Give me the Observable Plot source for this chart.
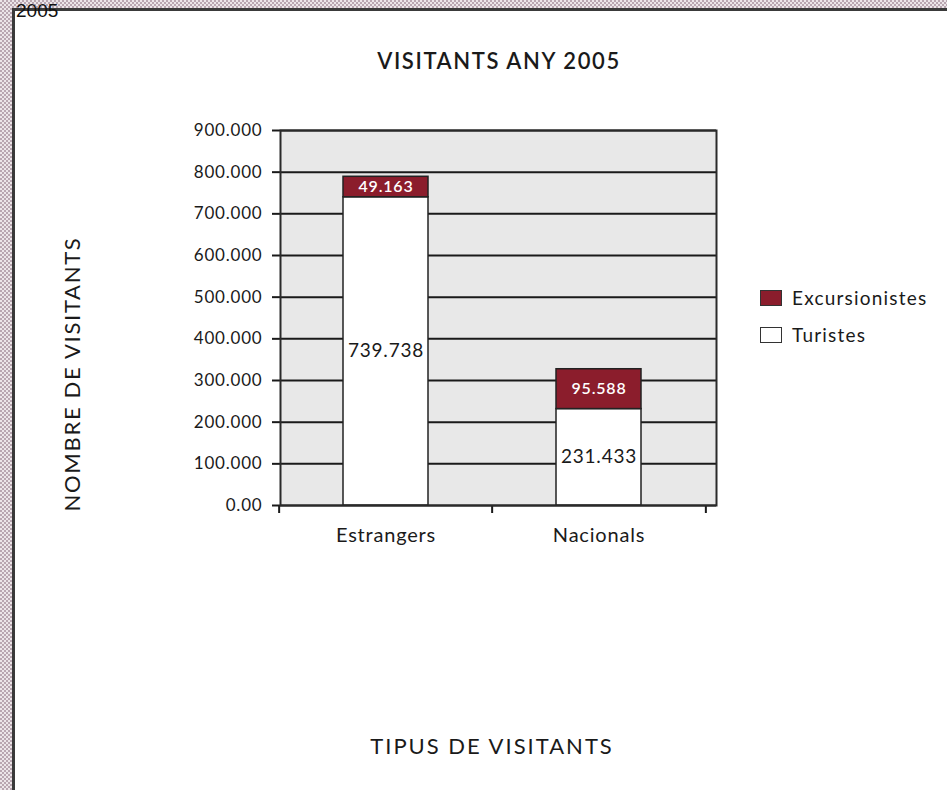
<!DOCTYPE html>
<html><head><meta charset="utf-8">
<script src="https://cdn.jsdelivr.net/npm/d3@7"></script>
<script src="https://cdn.jsdelivr.net/npm/@observablehq/plot@0.6"></script>
<style>
html,body{margin:0;padding:0;width:947px;height:790px;overflow:hidden;}
body{position:relative;background:repeating-conic-gradient(#b9a6b1 0 25%, #ece5e9 0 50%) 0 0/4px 4px;font-family:Lato,"Open Sans",sans-serif;}
#panel{position:absolute;left:12px;top:8px;right:0;bottom:0;background:#fff;border-left:3px solid #3a3a3a;border-top:3px solid #3a3a3a;}
#year{position:absolute;left:16px;top:1px;font:19px "Liberation Sans",Arial,sans-serif;color:#111;line-height:19px;}
#chart{position:absolute;left:0;top:0;}
#chart svg text{letter-spacing:0.8px;}
.t{position:absolute;color:#1a1a1a;white-space:nowrap;line-height:1;}
#title{left:499px;top:50px;transform:translateX(-50%);font-size:22px;font-weight:600;letter-spacing:1.6px;}
#ylab{left:72px;top:374px;transform:translate(-50%,-50%) rotate(-90deg);font-size:22px;letter-spacing:1.7px;}
#xlab{left:492px;top:735px;transform:translateX(-50%);font-size:22px;letter-spacing:2px;}
.leg{position:absolute;left:760px;display:flex;align-items:center;font-size:19px;letter-spacing:1.2px;color:#1a1a1a;}
.sw{width:20px;height:14px;border:1.5px solid #333;margin-right:10px;}
</style>
</head><body>
<div id="panel"></div>
<div id="year">2005</div>
<div id="chart"></div>
<div class="t" id="title">VISITANTS ANY 2005</div>
<div class="t" id="ylab">NOMBRE DE VISITANTS</div>
<div class="t" id="xlab">TIPUS DE VISITANTS</div>
<div id="legend"></div>
<script>
const categories = ["Estrangers", "Nacionals"];
const series = ["Turistes", "Excursionistes"];
const turistes = [739738, 231433];
const excursionistes = [49163, 95588];
const colors = ["#ffffff", "#8b1d2c"];
const yTicks = [0, 100000, 200000, 300000, 400000, 500000, 600000, 700000, 800000, 900000];
const yTickLabels = ["0.00", "100.000", "200.000", "300.000", "400.000", "500.000", "600.000", "700.000", "800.000", "900.000"];
const legendOrder = ["Excursionistes", "Turistes"];

const table = [];
categories.forEach((c, i) => {
  table.push({cat: c, type: series[0], value: turistes[i]});
  table.push({cat: c, type: series[1], value: excursionistes[i]});
});

const loc = d3.formatLocale({decimal: ",", thousands: ".", grouping: [3], currency: ["", ""]});
const fmt = loc.format(",d");

const W = 947, H = 790;
const mL = 280, mR = 231, mT = 130, mB = 285;
const pIn = 0.6, pOut = 0.32;
const step = (W - mL - mR) / (categories.length - pIn + 2 * pOut);

const stackOpts = {x: "cat", y: "value", z: "type", order: series};

const chart = Plot.plot({
  width: W, height: H,
  marginLeft: mL, marginRight: mR, marginTop: mT, marginBottom: mB,
  style: {background: "transparent", color: "#1a1a1a", fontFamily: "Lato, 'Open Sans', sans-serif"},
  x: {domain: categories, paddingInner: pIn, paddingOuter: pOut, align: 0.46, label: null},
  y: {domain: [0, 900000], label: null},
  color: {domain: series, range: colors},
  marks: [
    Plot.frame({fill: "#e8e8e8"}),
    Plot.ruleY(yTicks, {stroke: "#1a1a1a", strokeWidth: 2}),
    Plot.barY(table, Plot.stackY({...stackOpts, fill: "type", stroke: "#222", strokeWidth: 1.5})),
    Plot.text(table, Plot.stackY({...stackOpts, text: d => d.type === "Excursionistes" ? fmt(d.value) : null, fill: "white", fontSize: 16, fontWeight: 600})),
    Plot.text(table, Plot.stackY({...stackOpts, text: d => d.type === "Turistes" ? fmt(d.value) : null, fill: "#1a1a1a", fontSize: 19})),
    Plot.axisY({ticks: yTicks, tickFormat: (d, i) => yTickLabels[i], tickSize: 8, tickPadding: 10, fontSize: 17, strokeWidth: 2, label: null}),
    Plot.axisX({tickSize: 0, tickPadding: 22, fontSize: 20, label: null}),
    Plot.axisX({ticks: categories, tickSize: 8, tickFormat: () => "", dx: -step / 2, strokeWidth: 2, label: null}),
    Plot.axisX({ticks: categories.slice(-1), tickSize: 8, tickFormat: () => "", dx: step / 2, strokeWidth: 2, label: null}),
    Plot.frame({stroke: "#2a2a2a", strokeWidth: 2})
  ]
});
document.getElementById("chart").appendChild(chart);

const leg = document.getElementById("legend");
legendOrder.forEach((s, i) => {
  const row = document.createElement("div");
  row.className = "leg";
  row.style.top = (286 + i * 37) + "px";
  const sw = document.createElement("div");
  sw.className = "sw";
  sw.style.background = colors[series.indexOf(s)];
  row.appendChild(sw);
  const tx = document.createElement("span");
  tx.textContent = s;
  row.appendChild(tx);
  leg.appendChild(row);
});
</script>
</body></html>
